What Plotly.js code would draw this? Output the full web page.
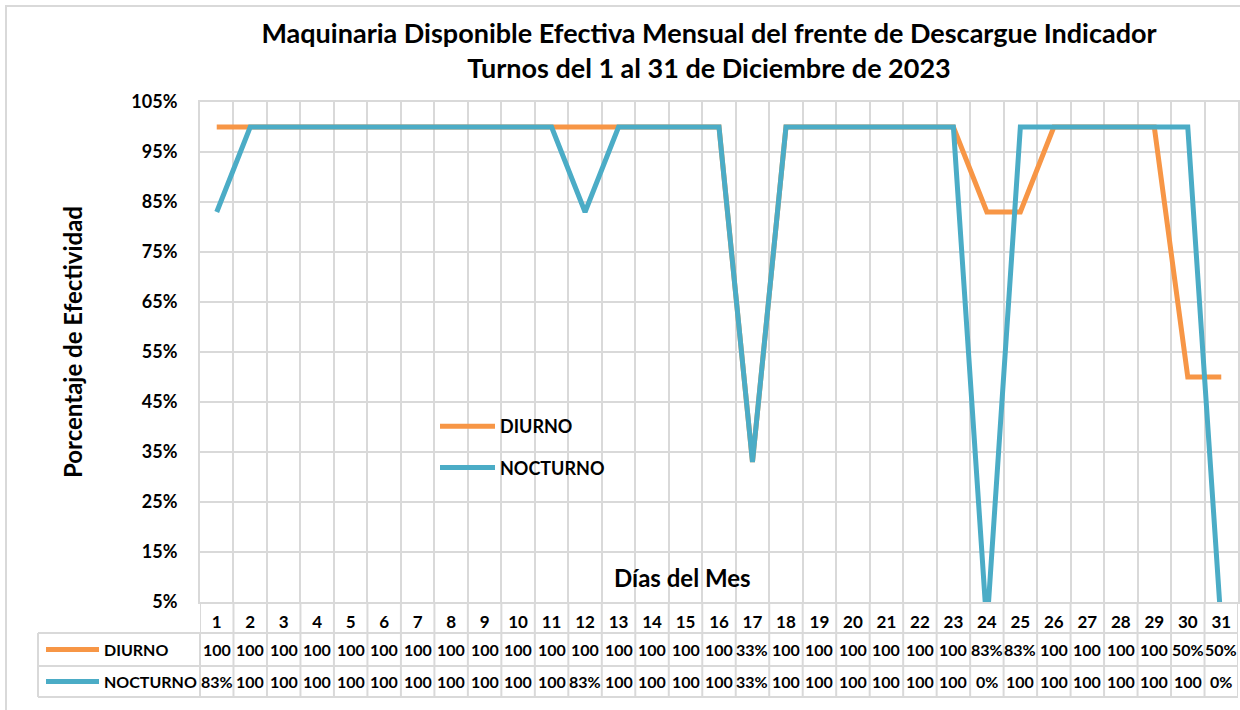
<!DOCTYPE html>
<html>
<head>
<meta charset="utf-8">
<script src="https://cdn.plot.ly/plotly-3.0.1.min.js"></script>
<style>html,body{margin:0;padding:0;background:#fff}#chart{width:1240px;height:710px}</style>
</head>
<body>
<div id="chart"></div>
<script>
// ---- data ----
const days = [1,2,3,4,5,6,7,8,9,10,11,12,13,14,15,16,17,18,19,20,21,22,23,24,25,26,27,28,29,30,31];
const diurno = [1,1,1,1,1,1,1,1,1,1,1,1,1,1,1,1,0.33,1,1,1,1,1,1,0.83,0.83,1,1,1,1,0.5,0.5];
const nocturno = [0.83,1,1,1,1,1,1,1,1,1,1,0.83,1,1,1,1,0.33,1,1,1,1,1,1,0,1,1,1,1,1,1,0];
const diurnoLabels = ["100","100","100","100","100","100","100","100","100","100","100","100","100","100","100","100","33%","100","100","100","100","100","100","83%","83%","100","100","100","100","50%","50%"];
const nocturnoLabels = ["83%","100","100","100","100","100","100","100","100","100","100","83%","100","100","100","100","33%","100","100","100","100","100","100","0%","100","100","100","100","100","100","0%"];
const seriesNames = ["DIURNO","NOCTURNO"];
const colors = ["#F79646","#4BACC6"];
const titleText = "Maquinaria Disponible Efectiva Mensual del frente de Descargue Indicador<br>Turnos del 1 al 31 de Diciembre de 2023";
const yTitle = "Porcentaje de Efectividad";
const xTitle = "Días del Mes";

// ---- layout helpers (pixel -> paper) ----
const M = {l:200, r:2, t:102, b:108};
const W = 1240, H = 710;
const pw = W - M.l - M.r, ph = H - M.t - M.b;
const px = v => (v - M.l) / pw;
const py = v => (H - M.b - v) / ph;

const FONT = "Lato, 'Open Sans', sans-serif";
const grid = "#D9D9D9";

const traces = [
  {x: days, y: diurno, name: seriesNames[0], type: 'scatter', mode: 'lines',
   line: {color: colors[0], width: 5}, legendgroup: 'a'},
  {x: days, y: nocturno, name: seriesNames[1], type: 'scatter', mode: 'lines',
   line: {color: colors[1], width: 5}, legendgroup: 'b'}
];

const shapes = [];
const annotations = [];

// outer chart border
shapes.push({type:'rect', xref:'paper', yref:'paper', x0: px(6), x1: px(1246), y0: py(6), y1: py(716),
  line:{color:grid, width:2}, fillcolor:'rgba(0,0,0,0)', layer:'below'});

// data table: vertical lines at category boundaries
for (let i = 0; i <= days.length; i++) {
  shapes.push({type:'line', xref:'x', yref:'paper', x0: i + 0.5, x1: i + 0.5, y0: 0, y1: py(697),
    line:{color:grid, width:2}});
}
// table left column verticals
shapes.push({type:'line', xref:'paper', yref:'paper', x0: px(38), x1: px(38), y0: py(633), y1: py(697), line:{color:grid, width:2}});
shapes.push({type:'line', xref:'paper', yref:'paper', x0: 0, x1: 0, y0: py(633), y1: py(697), line:{color:grid, width:2}});
// horizontal table lines
[633, 666, 697].forEach(yy => shapes.push({type:'line', xref:'paper', yref:'paper', x0: px(38), x1: 1,
  y0: py(yy), y1: py(yy), line:{color:grid, width:2}}));

// table legend keys + names
const rowCenters = [649.5, 681.5];
seriesNames.forEach((n, k) => {
  shapes.push({type:'line', xref:'paper', yref:'paper', x0: px(46), x1: px(99), y0: py(rowCenters[k]), y1: py(rowCenters[k]),
    line:{color: colors[k], width: 5}});
  annotations.push({xref:'paper', yref:'paper', x: px(102), y: py(rowCenters[k]), xanchor:'left', yanchor:'middle',
    text: n, showarrow:false, font:{family:FONT, size:16, weight:700, color:'#000'}});
});
// table values
[diurnoLabels, nocturnoLabels].forEach((labels, k) => {
  labels.forEach((t, i) => {
    annotations.push({xref:'x', yref:'paper', x: days[i], y: py(rowCenters[k]), xanchor:'center', yanchor:'middle',
      text: t, showarrow:false, font:{family:FONT, size:16, weight:700, color:'#000'}});
  });
});
// x axis title inside plot
annotations.push({xref:'paper', yref:'paper', x: px(682), y: py(577), xanchor:'center', yanchor:'middle',
  text: xTitle, showarrow:false, font:{family:FONT, size:24, weight:700, color:'#000'}});
// y axis title
annotations.push({xref:'paper', yref:'paper', x: px(72), y: py(342), xanchor:'center', yanchor:'middle', textangle:-90,
  text: yTitle, showarrow:false, font:{family:FONT, size:24, weight:700, color:'#000'}});

const layout = {
  width: W, height: H,
  margin: M,
  paper_bgcolor: '#fff', plot_bgcolor: '#fff',
  font: {family: FONT, weight: 700, color: '#000'},
  title: {text: titleText, x: 709 / W, xref: 'container', xanchor: 'center', y: 1 - 43 / H, yref: 'container', yanchor: 'middle',
    font: {family: FONT, size: 27, weight: 700, color: '#000'}},
  xaxis: {
    type: 'linear', range: [0.5, days.length + 0.5],
    tickmode: 'array', tickvals: days, ticktext: days.map(String),
    showgrid: false, zeroline: false, ticks: '', ticklabelstandoff: 4,
    tickfont: {family: FONT, size: 17, weight: 700, color: '#000'},
    minor: {tick0: 0.5, dtick: 1, showgrid: true, gridcolor: grid, gridwidth: 2, ticks: ''},
    showline: true, mirror: true, linecolor: grid, linewidth: 2
  },
  yaxis: {
    range: [0.05, 1.05], tick0: 0.05, dtick: 0.1, tickformat: '.0%',
    showgrid: true, gridcolor: grid, gridwidth: 2, zeroline: false, ticks: '', ticklabelstandoff: 17,
    tickfont: {family: FONT, size: 18, weight: 700, color: '#000'},
    showline: true, mirror: true, linecolor: grid, linewidth: 2
  },
  showlegend: true,
  legend: {x: px(435), y: py(408), xanchor: 'left', yanchor: 'top', bgcolor: 'rgba(0,0,0,0)',
    traceorder: 'grouped', tracegroupgap: 15, itemwidth: 55,
    font: {family: FONT, size: 18, weight: 700, color: '#000'}},
  shapes: shapes,
  annotations: annotations
};

Plotly.newPlot('chart', traces, layout, {displayModeBar: false, responsive: false});
</script>
</body>
</html>
